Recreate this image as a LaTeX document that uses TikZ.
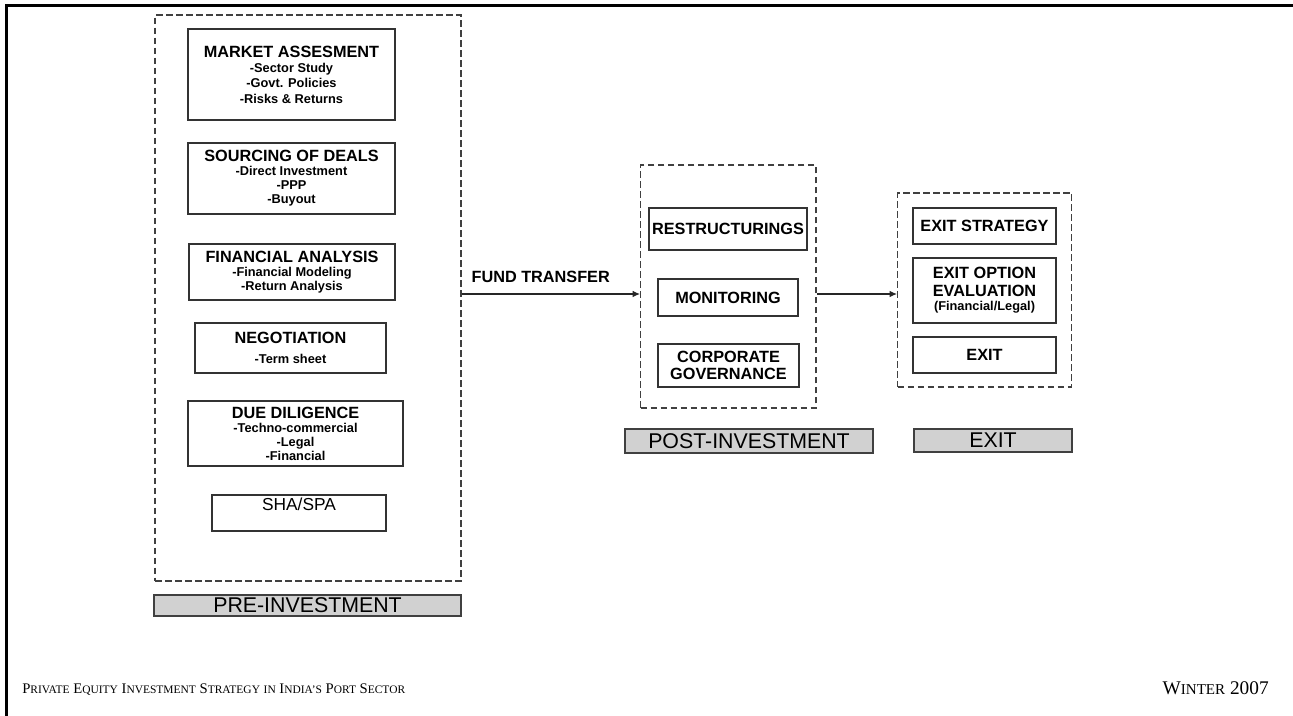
\documentclass[tikz,border=0pt]{standalone}
\usepackage{fontspec}
\newfontfamily\arial{Liberation Sans}
\newfontfamily\footserif{Liberation Serif}
\usetikzlibrary{arrows.meta,positioning}
\newcommand{\detail}{\fontsize{9.6}{10.5}\selectfont}
\newcommand{\smc}[1]{{\fontsize{8.6}{8.6}\selectfont #1}}

\begin{document}
\begin{tikzpicture}[x=0.75pt, y=-0.75pt,
    stage/.style={draw=black!80, line width=1.1pt, align=center, inner sep=1pt,
      font=\arial\bfseries\fontsize{12.2}{10.5}\selectfont},
    frame/.style={draw=black!75, line width=1pt, dash pattern=on 5pt off 2.5pt},
    phase/.style={draw=black!75, fill=black!18, line width=1.1pt, inner sep=0pt,
      font=\arial\fontsize{16}{16}\selectfont},
    flow/.style={draw=black!85, line width=1pt, -{Latex[length=5.5pt,width=5pt]}}]
    \useasboundingbox (0,0) rectangle (1293,716);

    % page rules
    \draw[line width=1.6pt] (5.5,5.5) -- (1293,5.5);
    \draw[line width=1.6pt] (6.5,4.5) -- (6.5,716);

    % pre-investment
    \node[frame, line width=1.4pt, minimum width=229.3pt, minimum height=424.5pt] (pre) at (307.9,298) {};
    \node[stage, minimum width=155.25pt, minimum height=68.25pt] (market) at (291.5,74.5)
        {MARKET ASSESMENT\\[1pt]\detail -Sector Study\\[1pt]\detail -Govt. Policies\\[1pt]\detail -Risks \& Returns};
    \node[stage, minimum width=155.25pt, minimum height=53.25pt] (sourcing) at (291.5,178.5)
        {SOURCING OF DEALS\\\detail -Direct Investment\\\detail -PPP\\\detail -Buyout};
    \node[stage, minimum width=154.5pt, minimum height=42pt] (financial) at (292,272)
        {FINANCIAL ANALYSIS\\\detail -Financial Modeling\\\detail -Return Analysis};
    \node[stage, minimum width=143.25pt, minimum height=37.5pt] (negotiation) at (290.5,348)
        {NEGOTIATION\\[4.5pt]\detail -Term sheet};
    \node[stage, minimum width=161.25pt, minimum height=48.75pt] (diligence) at (295.5,433.5)
        {DUE DILIGENCE\\\detail -Techno-commercial\\\detail -Legal\\\detail -Financial};
    \node[stage, font=\arial\fontsize{13}{13}\selectfont, minimum width=130.5pt,
        inner ysep=2.25pt, text height=9.3pt, text depth=13.2pt] (shaspa) at (299,513) {SHA/SPA};
    \node[phase, minimum width=230.25pt, minimum height=15.75pt] (prelabel) at (307.5,605.5) {PRE-INVESTMENT};

    % post-investment
    \node[frame, minimum width=131.5pt, minimum height=182.25pt] (post) at (728.4,286.5) {};
    \node[stage, minimum width=118.5pt, minimum height=31.5pt] (restructure) at (728,229) {RESTRUCTURINGS};
    \node[stage, minimum width=105pt, minimum height=27.75pt] (monitor) at (728,297.5) {MONITORING};
    \node[stage, minimum width=105.75pt, minimum height=32.25pt] (governance) at (728.5,365.5) {CORPORATE\\[2pt]GOVERNANCE};
    \node[phase, minimum width=186pt, minimum height=18pt] (postlabel) at (749,441) {POST-INVESTMENT};

    % exit
    \node[frame, minimum width=130.5pt, minimum height=145.5pt] (exit) at (984.7,290) {};
    \node[stage, minimum width=107.25pt, minimum height=27pt] (strategy) at (984.5,226) {EXIT STRATEGY};
    \node[stage, minimum width=107.25pt, minimum height=48.75pt] (option) at (984.5,290.5)
        {EXIT OPTION\\[2.5pt]EVALUATION\\[0.5pt]\detail (Financial/Legal)};
    \node[stage, minimum width=107.25pt, minimum height=27pt] (exitstep) at (984.5,355) {EXIT};
    \node[phase, minimum width=118.5pt, minimum height=17.25pt] (exitlabel) at (993,440.5) {EXIT};

    % flow between the phases
    \coordinate (fund) at (460,294);
    \draw[flow] (pre.east |- fund) -- node[pos=0.443, above=8.25pt, inner sep=0pt,
        font=\arial\bfseries\fontsize{12.2}{12.6}\selectfont] (fundlabel) {FUND TRANSFER} (post.west |- fund);
    \draw[flow] (post.east |- fund) -- (exit.west |- fund);

    % footer
    \node[anchor=base west, inner sep=0pt, font=\footserif\fontsize{11}{11}\selectfont] (title) at (22,693)
        {P\smc{RIVATE} E\smc{QUITY} I\smc{NVESTMENT} S\smc{TRATEGY} \smc{IN} I\smc{NDIA’S} P\smc{ORT} S\smc{ECTOR}};
    \node[anchor=base east, inner sep=0pt, font=\footserif\fontsize{14.5}{14.5}\selectfont] (issue) at (1269,694)
        {W{\fontsize{11.3}{11.3}\selectfont INTER} 2007};
\end{tikzpicture}
\end{document}
